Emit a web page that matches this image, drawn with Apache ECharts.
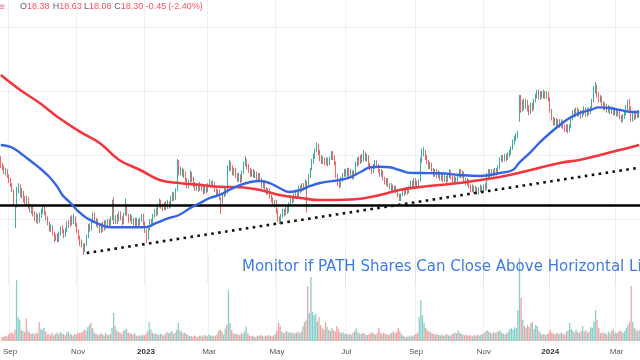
<!DOCTYPE html>
<html>
<head>
<meta charset="utf-8">
<script src="https://cdn.jsdelivr.net/npm/echarts@6/dist/echarts.min.js"></script>
<style>html,body{margin:0;padding:0;background:#fff;}#c{width:640px;height:360px;}</style>
</head>
<body>
<div id="c"></div>
<script>
// Daily candles [open, close, low, high]
const candles = [
[19.6,19.2,19.0,19.9],[19.2,19.0,18.8,19.4],[19.0,18.6,18.5,19.2],[18.6,18.8,18.4,19.0],[18.8,18.3,18.2,18.9],
[18.3,18.0,17.8,18.5],[18.0,17.7,17.5,18.2],[17.7,17.3,17.1,17.8],[17.2,16.2,16.0,17.3],[15.2,15.9,14.3,16.1],
[16.0,17.3,15.9,17.5],[17.3,17.6,17.0,17.8],[17.6,16.9,16.7,17.7],[16.9,17.2,16.6,17.4],[17.1,16.5,16.3,17.2],
[16.5,16.3,16.0,16.8],[16.2,16.6,16.0,16.8],[16.6,16.0,15.8,16.7],[16.0,15.7,15.5,16.2],[15.7,15.9,15.4,16.1],
[15.8,15.4,15.2,16.0],[15.4,15.0,14.8,15.6],[15.0,15.3,14.7,15.5],[15.3,14.9,14.6,15.4],[14.9,15.2,14.7,15.5],
[15.2,15.6,15.1,15.8],[15.5,15.9,15.4,16.0],[15.9,15.4,15.3,16.0],[15.4,15.1,14.9,15.6],[15.1,14.7,14.5,15.2],
[14.7,14.2,14.0,14.8],[14.2,14.4,14.0,14.6],[14.4,13.9,13.7,14.5],[13.9,13.4,13.2,14.0],[13.4,13.6,13.3,13.8],
[13.6,13.3,13.2,13.9],[13.3,13.8,13.2,14.0],[13.8,14.3,13.7,14.4],[14.3,14.1,13.9,14.5],[14.1,13.7,13.5,14.2],
[13.7,14.1,13.6,14.3],[14.1,14.6,14.0,14.8],[14.6,14.5,14.3,14.9],[14.5,15.0,14.4,15.2],[15.0,14.7,14.5,15.3],
[14.7,15.2,14.6,15.4],[15.1,14.6,14.4,15.2],[14.6,14.1,13.9,14.7],[14.1,13.6,13.4,14.2],[13.6,13.2,12.9,13.7],
[13.2,13.0,12.8,13.4],[13.0,12.6,12.2,13.1],[12.6,13.0,12.4,13.1],[13.0,13.6,12.9,13.8],[13.6,14.4,13.5,14.6],
[14.4,14.2,14.0,14.7],[14.2,14.8,14.1,15.0],[14.8,15.3,14.7,15.5],[15.3,15.0,14.8,15.5],[15.0,14.6,14.4,15.1],
[14.6,14.9,14.3,15.0],[14.5,14.0,13.9,14.6],[14.0,14.5,13.9,14.7],[14.5,14.2,14.0,14.8],[14.2,14.7,14.1,14.9],
[14.7,14.4,14.2,14.9],[14.4,14.8,14.3,15.0],[14.8,14.6,14.4,15.0],[14.6,15.0,14.5,15.2],[15.0,16.2,14.9,16.5],
[16.3,14.8,14.6,16.7],[14.8,15.1,14.6,15.3],[15.1,14.9,14.6,15.4],[14.9,15.4,14.8,15.6],[15.4,15.1,14.9,15.6],
[15.1,14.7,14.5,15.2],[14.7,15.4,14.6,15.5],[15.4,16.1,15.3,16.6],[16.1,15.3,15.2,16.2],[15.3,14.9,14.7,15.4],
[14.9,15.2,14.8,15.4],[15.2,14.8,14.6,15.3],[14.8,15.0,14.5,15.1],[15.0,14.6,14.4,15.1],[14.6,14.9,14.4,15.1],
[14.9,14.6,14.4,15.0],[14.6,14.9,14.5,15.1],[14.9,15.3,14.8,15.4],[15.3,14.7,14.5,15.4],[14.7,14.1,13.9,14.8],
[14.1,13.5,13.1,14.2],[13.5,14.2,13.4,14.3],[14.2,14.8,14.1,15.0],[14.8,14.6,14.4,15.0],[14.6,15.2,14.5,15.4],
[15.2,15.6,15.1,15.8],[15.6,15.4,15.2,15.9],[15.4,16.0,15.3,16.2],[16.0,16.4,15.9,16.6],[16.4,16.0,15.8,16.5],
[16.0,15.8,15.6,16.2],[15.8,16.2,15.7,16.3],[16.2,15.9,15.7,16.4],[15.9,16.3,15.8,16.5],[16.3,16.0,15.8,16.4],
[16.0,16.6,15.9,16.8],[16.6,16.9,16.4,17.1],[16.9,16.6,16.4,17.1],[16.6,17.2,16.5,17.4],[17.3,19.0,17.2,19.7],
[19.0,18.7,18.4,19.6],[18.7,18.9,18.4,19.1],[18.9,18.5,18.3,19.0],[18.5,18.6,18.2,18.9],[18.6,18.1,17.9,18.7],
[18.1,17.6,17.4,18.2],[17.6,17.9,17.4,18.1],[17.9,18.6,17.8,18.8],[18.6,18.2,17.9,18.7],[18.2,17.7,17.5,18.3],
[17.7,17.4,17.2,17.9],[17.4,17.6,17.2,17.8],[17.6,17.3,17.1,17.8],[17.3,17.7,17.2,17.9],[17.7,17.4,17.2,17.8],
[17.4,17.1,16.9,17.6],[17.1,17.5,17.0,17.6],[17.5,17.2,17.0,17.7],[17.2,17.7,17.1,17.8],[17.7,17.9,17.5,18.1],
[17.9,17.6,17.4,18.0],[17.6,17.8,17.5,18.0],[17.8,17.3,17.1,17.9],[17.3,17.0,16.8,17.4],[17.0,17.2,16.8,17.3],
[17.2,16.6,16.5,17.3],[16.6,16.3,15.4,16.7],[16.3,16.9,16.2,17.0],[16.9,17.2,16.7,17.4],[17.2,17.0,16.8,17.5],
[17.1,18.9,17.0,19.2],[18.9,19.3,18.7,19.6],[19.3,19.0,18.8,19.5],[19.0,18.6,18.4,19.2],[18.6,18.9,18.4,19.0],
[18.9,18.4,18.2,19.0],[18.4,18.1,17.9,18.6],[18.1,18.4,17.9,18.6],[18.4,18.0,17.8,18.5],[18.0,18.6,17.9,18.8],
[18.6,19.3,18.5,19.5],[19.3,19.6,19.1,19.9],[19.6,19.1,18.9,19.7],[19.1,18.9,18.6,19.3],[18.9,18.5,18.3,19.0],
[18.5,18.8,18.3,18.9],[18.8,18.4,18.2,18.9],[18.4,18.6,18.2,18.8],[18.6,18.2,18.0,18.7],[18.2,18.5,18.0,18.6],
[18.5,18.1,17.9,18.6],[18.1,17.6,17.4,18.2],[17.6,17.9,17.4,18.0],[17.9,17.4,17.2,18.0],[17.4,17.1,16.9,17.5],
[17.1,17.3,16.9,17.4],[17.3,16.8,16.6,17.4],[16.8,16.5,16.3,16.9],[16.5,16.2,16.0,16.7],[16.2,16.4,15.9,16.5],
[16.4,15.6,15.4,16.5],[15.6,15.0,14.8,15.8],[15.0,14.8,14.6,15.2],[14.8,15.3,14.6,15.4],[15.3,15.6,15.1,15.8],
[15.6,15.4,15.2,15.8],[15.4,15.8,15.3,16.0],[15.8,15.6,15.4,16.0],[15.6,16.2,15.5,16.3],[16.2,16.6,16.0,16.8],
[16.6,16.4,16.2,16.8],[16.4,16.8,16.3,17.0],[16.8,17.1,16.6,17.3],[17.1,16.9,16.7,17.3],[16.9,17.4,16.8,17.6],
[17.4,17.2,17.0,17.6],[17.2,17.6,17.1,17.8],[17.6,17.4,17.2,17.8],[17.4,17.9,17.3,18.1],[17.9,17.7,15.5,18.0],
[17.7,18.3,17.6,18.5],[18.3,18.9,18.2,19.0],[18.9,19.4,18.8,19.7],[19.4,19.9,19.3,20.1],[19.9,20.3,19.7,20.5],
[20.3,20.8,20.2,21.0],[20.8,20.2,20.0,20.9],[20.2,19.8,19.5,20.4],[19.8,19.5,19.3,20.0],[19.5,19.7,19.3,19.9],
[19.7,19.4,19.2,19.8],[19.4,19.6,19.2,19.8],[19.6,19.3,19.1,19.8],[19.3,19.8,19.2,19.9],[19.8,20.1,19.6,20.3],
[20.1,19.8,19.6,20.3],[19.8,19.4,19.2,20.0],[19.4,18.4,18.2,19.5],[18.4,17.8,17.6,18.5],[17.8,17.6,17.4,18.0],
[17.6,18.1,17.5,18.3],[18.1,18.4,17.9,18.6],[18.4,18.7,18.3,18.9],[18.7,18.5,18.3,18.9],[18.5,18.8,18.3,19.0],
[18.8,18.5,18.3,19.0],[18.5,18.7,18.3,18.9],[18.7,18.3,18.1,18.8],[18.3,18.6,18.1,18.8],[18.6,19.3,18.5,19.5],
[19.3,19.6,19.1,19.8],[19.6,19.4,19.2,19.9],[19.4,19.8,19.3,20.0],[19.8,19.6,19.4,20.1],[19.6,20.1,19.5,20.4],
[20.1,19.7,19.5,20.2],[19.7,19.9,19.5,20.1],[19.9,19.3,19.1,20.0],[19.3,19.0,18.8,19.4],[19.0,18.7,18.5,19.1],
[18.7,19.1,18.6,19.3],[19.1,19.4,18.9,19.6],[19.4,19.2,19.0,19.6],[19.2,18.8,18.6,19.3],[18.8,18.5,18.3,18.9],
[18.5,18.7,18.3,18.9],[18.7,18.2,18.0,18.8],[18.2,17.9,17.7,18.3],[17.9,18.1,17.6,18.2],[18.1,17.7,17.5,18.2],
[17.7,17.5,17.3,17.8],[17.5,17.6,17.2,17.8],[17.6,17.3,17.1,17.7],[17.3,17.5,17.1,17.6],[17.5,17.2,17.0,17.6],
[17.2,16.9,16.7,17.3],[16.9,16.6,16.4,17.0],[16.6,16.9,16.4,17.0],[16.9,17.2,16.8,17.4],[17.2,17.0,16.8,17.4],
[17.0,17.3,16.9,17.5],[17.3,17.1,16.9,17.5],[17.1,17.4,17.0,17.6],[17.4,17.8,17.3,18.0],[17.8,17.6,17.4,18.0],
[17.6,18.0,17.5,18.2],[18.0,17.8,17.6,18.2],[17.8,17.6,17.4,18.0],[17.6,18.0,17.5,18.1],[18.0,19.5,17.9,19.8],
[19.6,20.1,19.4,20.5],[20.1,20.3,19.9,20.6],[20.3,19.8,19.6,20.4],[19.8,19.5,19.3,20.0],[19.5,19.1,18.9,19.6],
[19.1,19.3,18.9,19.5],[19.3,18.9,18.7,19.4],[18.9,18.5,18.3,19.0],[18.5,18.8,18.3,18.9],[18.8,18.4,18.2,18.9],
[18.4,18.6,18.2,18.8],[18.6,18.2,18.0,18.7],[18.2,18.4,18.0,18.6],[18.4,18.1,17.9,18.5],[18.1,18.3,17.9,18.5],
[18.3,18.0,17.8,18.4],[18.0,18.4,17.9,18.6],[18.4,18.7,18.2,18.9],[18.7,18.3,18.1,18.8],[18.3,18.0,17.8,18.4],
[18.0,18.2,17.8,18.4],[18.2,17.9,17.7,18.3],[18.0,18.3,17.8,18.5],[18.3,18.7,18.2,18.9],[18.7,18.4,18.2,18.9],
[18.4,18.6,18.2,18.8],[18.6,18.1,17.9,18.7],[18.1,17.8,17.6,18.2],[17.8,18.0,17.6,18.2],[18.0,17.6,17.4,18.1],
[17.6,17.3,17.1,17.7],[17.3,17.5,17.1,17.7],[17.5,17.2,17.0,17.6],[17.2,17.4,17.0,17.6],[17.4,17.1,16.9,17.5],
[17.1,17.3,16.9,17.5],[17.3,17.5,17.1,17.7],[17.5,17.2,17.0,17.6],[17.2,17.6,17.1,17.7],[17.6,17.4,17.2,17.8],
[17.4,18.4,17.3,18.6],[18.4,18.6,18.2,18.9],[18.6,18.4,18.2,18.9],[18.4,18.7,18.3,18.9],[18.7,18.5,18.3,18.9],
[18.5,18.8,18.4,19.0],[18.8,18.6,18.4,19.0],[18.6,19.0,18.5,19.2],[19.0,19.6,18.9,19.8],[19.6,19.8,19.5,20.0],
[19.8,19.6,19.4,20.0],[19.6,19.9,19.5,20.1],[19.9,19.7,19.5,20.1],[19.7,20.0,19.6,20.2],[20.0,20.2,19.8,20.4],
[20.2,20.5,20.0,20.7],[20.5,21.0,20.4,21.2],[21.0,21.3,20.8,21.5],[21.3,21.5,21.1,21.7],[21.5,21.7,21.3,21.9],
[22.7,24.4,22.6,24.7],[24.4,23.6,23.3,24.7],[23.6,24.1,23.4,24.3],[24.1,23.8,23.5,24.4],[23.8,24.2,23.6,24.4],
[24.2,23.7,23.4,24.3],[23.7,23.3,23.1,23.9],[23.3,23.9,23.2,24.1],[23.9,23.6,23.4,24.1],[23.6,24.2,23.5,24.4],
[24.2,24.6,24.1,24.8],[24.6,24.9,24.4,25.1],[24.9,24.5,24.3,25.1],[24.5,24.8,24.3,25.0],[24.8,24.6,24.4,25.0],
[24.6,24.9,24.4,25.1],[24.9,24.6,24.4,25.0],[24.6,24.8,24.4,25.0],[24.8,24.4,24.2,24.9],[24.4,23.5,23.3,24.5],
[23.5,22.9,22.7,23.6],[22.9,22.5,22.3,23.0],[22.5,22.7,22.3,22.9],[22.7,22.4,22.2,22.9],[22.4,22.6,22.2,22.8],
[22.6,22.3,22.1,22.8],[22.3,22.6,22.1,22.8],[22.6,22.2,22.0,22.7],[22.2,22.0,21.8,22.4],[22.0,22.3,21.8,22.4],
[22.3,21.9,21.7,22.4],[21.9,22.2,21.8,22.4],[22.2,22.8,22.1,23.0],[22.8,23.3,22.7,23.5],[23.3,23.1,22.9,23.6],
[23.1,23.5,23.0,23.7],[23.5,23.2,23.0,23.7],[23.2,23.4,23.0,23.6],[23.4,23.0,22.8,23.5],[23.0,23.3,22.9,23.5],
[23.3,23.6,23.1,23.8],[23.6,23.2,23.0,23.7],[23.2,23.5,23.0,23.7],[23.5,23.3,23.1,23.7],[23.3,23.6,23.2,23.8],
[23.6,24.2,23.5,24.4],[24.2,25.1,24.1,25.4],[25.1,25.3,24.8,25.7],[25.3,24.7,24.5,25.5],[24.7,24.3,24.1,24.9],
[24.3,24.5,24.1,24.7],[24.5,24.0,23.8,24.6],[24.0,23.7,23.5,24.2],[23.7,23.9,23.5,24.1],[23.9,23.5,23.3,24.0],
[23.5,23.7,23.3,23.9],[23.7,23.4,23.2,23.8],[23.4,23.6,23.2,23.8],[23.6,23.3,23.1,23.7],[23.3,23.5,23.1,23.7],
[23.5,23.2,23.0,23.6],[23.2,23.4,23.0,23.6],[23.4,23.0,22.8,23.5],[23.0,22.7,22.5,23.1],[22.7,23.0,22.6,23.2],
[23.0,23.3,22.8,23.5],[23.3,23.6,23.1,23.9],[23.6,24.0,23.4,24.3],[24.0,23.7,23.5,24.4],[23.7,22.8,22.6,23.8],
[22.8,23.1,22.6,23.3],[23.1,22.9,22.7,23.3],[22.9,23.3,22.8,23.4],[23.3,23.1,22.9,23.5],[23.1,23.3,22.9,23.5]
];

// Daily volume (millions)
const volumes = [
1.8,2.0,2.4,2.2,3.0,3.6,3.9,3.4,5.2,28.4,
11.0,9.6,5.0,4.6,4.2,10.5,4.8,3.9,3.4,3.6,
3.2,4.0,3.6,8.8,5.6,5.0,6.0,4.4,3.0,3.4,
2.8,3.8,2.6,3.4,4.0,3.0,4.2,3.6,3.2,2.8,
3.8,4.4,3.2,3.0,2.6,3.4,3.0,4.0,3.6,3.8,
4.4,5.4,4.8,6.4,7.4,8.4,6.0,4.0,3.4,3.0,
2.8,3.6,3.2,2.6,3.8,3.0,2.8,3.4,6.0,13.0,
7.0,5.0,4.2,3.8,3.2,4.6,5.2,5.6,4.0,3.6,
3.4,3.0,3.6,2.6,2.2,2.8,2.4,3.0,2.6,3.2,
4.6,8.8,5.4,4.0,3.2,3.6,3.0,2.8,3.4,3.0,
2.6,3.2,4.2,3.6,3.8,4.6,3.4,4.0,5.2,8.4,
5.0,4.4,3.6,4.0,3.2,2.8,2.4,2.2,2.0,2.6,
2.2,1.8,2.4,2.6,2.0,2.8,2.4,2.2,3.0,2.6,
2.4,2.2,2.6,3.4,4.8,5.2,4.4,3.0,5.8,7.4,
23.7,8.4,5.0,3.6,3.2,3.4,3.0,2.8,3.8,3.4,
4.6,6.6,3.6,2.6,2.2,2.4,2.0,1.8,2.6,2.2,
2.8,2.4,2.0,2.6,2.2,2.8,2.4,2.0,2.6,3.2,
4.8,8.4,7.0,4.4,3.6,4.0,4.6,3.8,4.2,3.6,
4.0,3.4,3.8,4.4,3.6,4.2,6.8,8.8,9.6,25.6,
13.0,29.8,13.4,12.0,12.6,9.0,11.2,7.4,6.0,5.4,
8.8,6.6,5.2,4.6,6.0,5.0,4.4,7.0,5.6,4.2,
3.6,4.0,3.2,3.6,3.0,3.4,2.8,3.8,4.6,5.8,
4.2,3.6,3.2,3.8,3.4,3.0,2.8,3.2,3.6,4.0,
3.4,3.0,3.6,6.0,4.0,3.4,3.8,3.2,3.0,2.8,
3.4,3.8,4.4,3.6,4.2,6.0,4.6,3.2,2.4,2.0,
1.8,2.4,2.0,2.6,2.2,2.8,3.2,4.0,11.2,19.0,
12.0,8.4,6.0,5.0,4.6,4.0,3.6,3.2,3.0,3.4,
2.8,2.6,3.0,2.4,2.8,3.2,2.6,2.4,3.0,3.4,
4.0,3.6,5.0,3.8,3.4,3.0,2.6,3.0,2.4,2.8,
2.6,2.2,2.8,2.4,3.0,2.6,2.8,3.2,3.6,4.4,
5.0,4.4,3.8,3.4,4.2,3.6,4.0,4.6,5.0,3.8,
3.4,3.0,3.6,4.2,5.6,6.0,5.4,6.4,6.0,14.4,
38.6,20.0,9.8,7.0,6.0,7.4,6.4,8.4,8.8,5.6,
7.4,7.0,4.6,3.6,3.0,3.4,2.8,3.2,3.6,5.2,
4.0,3.4,3.0,3.8,3.2,3.6,4.0,3.4,3.0,4.4,
5.0,8.4,5.6,4.8,4.0,5.4,4.2,3.6,4.6,7.0,
4.4,5.0,3.8,4.2,6.4,6.0,9.0,14.4,9.8,6.0,
3.6,4.2,3.4,3.8,3.0,4.4,3.6,4.8,5.4,4.0,
3.6,4.2,5.0,4.4,3.8,4.6,6.2,7.4,8.8,25.6,
8.8,6.0,5.4,4.6,5.0
];

// 50-day moving average, read at [day index, value]
const ma50 = [
[0,20.78],[6,20.63],[12,20.16],[16,19.77],[24,18.98],[30,18.28],[35,17.5],[38,16.88],[43,16.25],[47,15.7],
[53,15.08],[59,14.69],[66,14.38],[74,14.36],[82,14.36],[90,14.38],[96,14.69],[104,15.08],[110,15.31],[117,15.86],
[123,16.25],[129,16.64],[135,16.88],[141,17.27],[148,17.66],[154,17.89],[160,17.97],[166,17.81],[172,17.42],[178,17.11],
[185,17.27],[191,17.58],[197,17.81],[209,18.05],[216,18.28],[222,18.67],[228,19.04],[234,19.08],[240,19.04],[246,18.83],
[253,18.6],[259,18.59],[271,18.58],[283,18.44],[296,18.36],[308,18.59],[316,18.83],[320,19.4],[327,20.23],[333,21.02],
[339,21.72],[345,22.34],[351,22.89],[357,23.28],[364,23.52],[369,23.72],[376,23.67],[382,23.52],[388,23.38],[394,23.36]
];

// 200-day moving average, read at [day index, value]
const ma200 = [
[0,26.25],[12,25.08],[24,24.06],[36,22.89],[49,21.8],[61,20.94],[73,19.61],[86,18.83],[98,18.05],[110,17.81],
[123,17.66],[135,17.52],[148,17.48],[160,17.27],[172,16.88],[185,16.64],[197,16.48],[216,16.52],[234,16.88],[246,17.27],
[259,17.5],[271,17.66],[283,17.81],[296,18.05],[308,18.28],[327,18.83],[345,19.38],[357,19.61],[370,20.0],[382,20.39],[394,20.78]
];

const horizontalLevel = [16.09];
const trendLine = [[53,12.34],[392,18.97]];

const headerGroups = [['O','18.38'],['H','18.63'],['L','18.08'],['C','18.30']];
const headerChange = ['-0.45','(-2.40%)'];
const annotation = 'Monitor if PATH Shares Can Close Above Horizontal Line';
const monthNames = ['Jan','Feb','Mar','Apr','May','Jun','Jul','Aug','Sep','Oct','Nov','Dec'];
const holidays = ['2022-09-05','2022-11-24','2022-12-26','2023-01-02','2023-01-16','2023-02-20','2023-04-07',
'2023-05-29','2023-06-19','2023-07-04','2023-09-04','2023-11-23','2023-12-25','2024-01-01','2024-01-15','2024-02-19'];

// trading-day categories
const dates = [];
(function(){
  const d = new Date(Date.UTC(2022,7,25));
  while (dates.length < candles.length) {
    const wd = d.getUTCDay();
    const s = d.toISOString().slice(0,10);
    if (wd !== 0 && wd !== 6 && holidays.indexOf(s) < 0) dates.push(s);
    d.setUTCDate(d.getUTCDate()+1);
  }
})();
// ticks every second month (Jan, Mar, May, Jul, Sep, Nov)
function isTick(i){
  if (i <= 0 || dates[i].slice(5,7) === dates[i-1].slice(5,7)) return false;
  const m = parseInt(dates[i].slice(5,7),10) - 1;
  return m % 2 === 0;
}

const UP = '#26a69a', DOWN = '#ef5350';
const chart = echarts.init(document.getElementById('c'), null, {renderer:'canvas'});

const xCommon = {
  type:'category', data: dates, boundaryGap: true,
  axisLine:{show:false}, axisTick:{show:false},
  splitLine:{show:true, interval:function(i){return isTick(i);}, lineStyle:{color:'#e2e2e2', type:'dotted', width:1}}
};

const headerGraphics = [];
const hx = [20, 52.7, 84, 114.3];
headerGroups.forEach(function(g, k){
  headerGraphics.push({type:'text', x:hx[k], y:7, style:{
    text:'{l|'+g[0]+'}{v|'+g[1]+'}', verticalAlign:'middle',
    rich:{l:{fill:'#5d606b', font:'9px "Liberation Sans"'}, v:{fill:'#f7525f', font:'9px "Liberation Sans"'}}
  }});
});
headerGraphics.push({type:'text', x:145.7, y:7, style:{text:headerChange[0], fill:'#f7525f', font:'9px "Liberation Sans"', verticalAlign:'middle'}});
headerGraphics.push({type:'text', x:168.3, y:7, style:{text:headerChange[1], fill:'#f7525f', font:'9px "Liberation Sans"', verticalAlign:'middle'}});
headerGraphics.push({type:'text', x:-3, y:7, style:{text:'≡', fill:'#e8838b', font:'10px "DejaVu Sans"', verticalAlign:'middle'}});

chart.setOption({
  animation:false,
  backgroundColor:'#ffffff',
  grid:[
    {left:0, right:0, top:0, height:283},
    {left:0, right:0, top:255, height:86}
  ],
  xAxis:[
    Object.assign({}, xCommon, {gridIndex:0, axisLabel:{show:false}}),
    Object.assign({}, xCommon, {gridIndex:1, axisLabel:{
      show:true, margin:7, color:'#555', fontSize:8, fontFamily:'Liberation Sans',
      interval:function(i){return isTick(i);},
      formatter:function(v){
        const m = parseInt(v.slice(5,7),10)-1;
        return m === 0 ? '{y|'+v.slice(0,4)+'}' : monthNames[m];
      },
      rich:{y:{fontWeight:'bold', color:'#333', fontSize:8, fontFamily:'Liberation Sans'}}
    }})
  ],
  yAxis:[
    {type:'value', gridIndex:0, min:10, max:32.109375, interval:5, show:true,
     axisLine:{show:false}, axisTick:{show:false}, axisLabel:{show:false},
     splitLine:{show:true, showMinLine:false, showMaxLine:false, lineStyle:{color:'#eadede', type:'dotted'}}},
    {type:'value', gridIndex:1, min:0, max:40, show:false, splitLine:{show:false}}
  ],
  graphic: headerGraphics.concat([
    {type:'text', x:242, y:267.5, z:100, style:{text:annotation, fill:'#3d7be8', font:'15px "DejaVu Sans"', verticalAlign:'middle'}}
  ]),
  series:[
    {type:'bar', xAxisIndex:1, yAxisIndex:1, data:volumes, barWidth:1.3, silent:true,
     itemStyle:{color:function(p){ const c = candles[p.dataIndex]; return c[1] >= c[0] ? 'rgba(38,166,154,0.55)' : 'rgba(239,83,80,0.55)'; }}},
    {type:'candlestick', xAxisIndex:0, yAxisIndex:0, data:candles, barWidth:1.2, silent:true,
     itemStyle:{color:UP, color0:DOWN, borderColor:UP, borderColor0:DOWN, borderWidth:0.9},
     markLine:{silent:true, symbol:['none','none'], label:{show:false},
       lineStyle:{color:'#000', width:2.5, type:'solid'},
       data:[{yAxis:horizontalLevel[0]}]}},
    {type:'line', xAxisIndex:0, yAxisIndex:0, data:ma200, smooth:0.4, showSymbol:false, silent:true, z:5,
     lineStyle:{color:'#f0363f', width:2.6}},
    {type:'line', xAxisIndex:0, yAxisIndex:0, data:ma50, smooth:0.4, showSymbol:false, silent:true, z:5,
     lineStyle:{color:'#3465e6', width:2.4}},
    {type:'line', xAxisIndex:0, yAxisIndex:0, data:trendLine, showSymbol:false, silent:true, z:6,
     lineStyle:{color:'#111', width:2.6, type:[2.6,4.4], cap:'butt'}}
  ]
});
</script>
</body>
</html>
